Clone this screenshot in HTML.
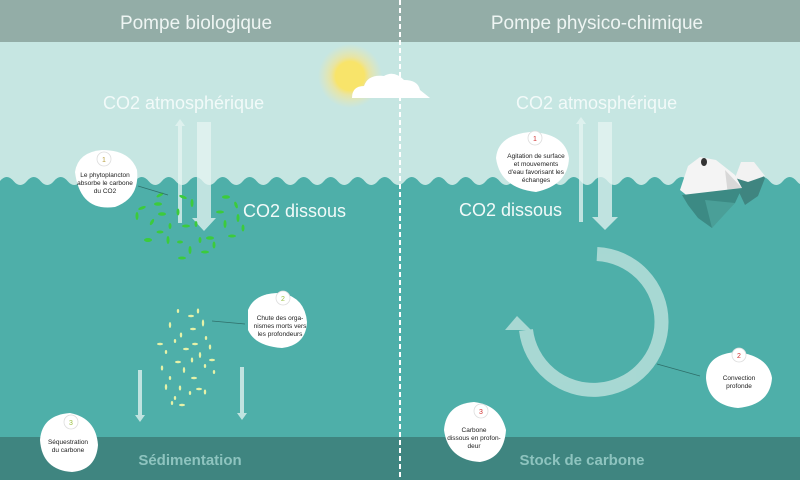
<!DOCTYPE html>
<html><head><meta charset="utf-8"><style>
html,body{margin:0;padding:0;width:800px;height:480px;overflow:hidden;background:#C6E6E2}
svg{display:block}
text{font-family:"Liberation Sans",sans-serif}
</style></head><body>
<svg width="800" height="480" viewBox="0 0 800 480" xmlns="http://www.w3.org/2000/svg">
<defs>
<radialGradient id="glow"><stop offset="0.45" stop-color="#F8E46A"/><stop offset="0.6" stop-color="#F6E48A" stop-opacity="0.7"/><stop offset="1" stop-color="#F6E8A0" stop-opacity="0"/></radialGradient>
<pattern id="wave" x="0" y="174" width="27" height="20" patternUnits="userSpaceOnUse">
<path d="M0 7 Q6.75 -1 13.5 7 Q20.25 15 27 7 L27 20 L0 20Z" fill="#4EAFA9"/>
</pattern>
</defs>
<rect x="0" y="0" width="800" height="480" fill="#C6E6E2"/>
<rect x="0" y="0" width="800" height="42" fill="#93ADA7"/>
<text x="196" y="29" font-size="19" fill="#EEF5F3" text-anchor="middle">Pompe biologique</text>
<text x="597" y="29" font-size="19" fill="#EEF5F3" text-anchor="middle">Pompe physico-chimique</text>
<circle cx="350" cy="76" r="32" fill="url(#glow)"/>
<path d="M352 98 Q352 86 364 86 Q368 74 384 76 Q394 70 404 80 Q418 80 420 90 L430 98Z" fill="#fff"/>
<rect x="0" y="174" width="800" height="20" fill="url(#wave)"/>
<rect x="0" y="193" width="800" height="245" fill="#4EAFA9"/>
<rect x="0" y="437" width="800" height="43" fill="#3F8580"/>
<text x="103" y="109" font-size="18" fill="#F2FAF9">CO2 atmosphérique</text>
<text x="516" y="109" font-size="18" fill="#F2FAF9">CO2 atmosphérique</text>
<text x="243" y="217" font-size="18" fill="#F2FAF9">CO2 dissous</text>
<text x="459" y="216" font-size="18" fill="#F2FAF9">CO2 dissous</text>
<text x="190" y="465" font-size="15" font-weight="bold" fill="#8EC4BF" text-anchor="middle">Sédimentation</text>
<text x="582" y="465" font-size="15" font-weight="bold" fill="#8EC4BF" text-anchor="middle">Stock de carbone</text>
<g fill="#E6F5F3" opacity="0.75">
<path d="M178 223 L178 126 L175 126 L180 119 L185 126 L182 126 L182 223Z"/>
<path d="M197 122 L211 122 L211 218 L216 218 L204 231 L192 218 L197 218Z"/>
<path d="M579 222 L579 124 L576 124 L581 117 L586 124 L583 124 L583 222Z"/>
<path d="M598 122 L612 122 L612 217 L618 217 L605 230 L592 217 L598 217Z"/>
<path d="M138 370 L142 370 L142 415 L145 415 L140 422 L135 415 L138 415Z"/>
<path d="M240 367 L244 367 L244 413 L247 413 L242 420 L237 413 L240 413Z"/>
</g>
<g opacity="0.75">
<path d="M597 254 A68 68 0 1 1 526 330" fill="none" stroke="#C6E6E2" stroke-width="14"/>
<path d="M505 330 L517 316 L531 330Z" fill="#C6E6E2"/>
</g>
<g>
<path d="M735 180 L742 162 L756 165 L765 178 L758 196 L745 205 L738 190Z" fill="#3F8580"/>
<path d="M735 178 L741 162 L754 162 L765 176 L748 182Z" fill="#F2F2F2"/>
<path d="M680 190 L688 166 L700 157 L716 160 L735 175 L742 188 L720 200 L690 198Z" fill="#F4F4F4"/>
<path d="M725 170 L742 188 L728 195Z" fill="#D8D8D8"/>
<path d="M682 195 L742 188 L735 203 L722 215 L712 228 L698 218 L688 205Z" fill="#3C8A84"/>
<path d="M705 200 L735 203 L712 228Z" fill="#4A9F98"/>
<ellipse cx="704" cy="162" rx="3" ry="4" fill="#333"/>
</g>
<g fill="#3CCB3C">
<ellipse cx="160" cy="195" rx="4" ry="1.5" transform="rotate(-30 160 195)"/>
<ellipse cx="142" cy="208" rx="4" ry="1.5" transform="rotate(-20 142 208)"/>
<ellipse cx="158" cy="204" rx="4" ry="1.8"/>
<ellipse cx="183" cy="197" rx="4" ry="1.5" transform="rotate(20 183 197)"/>
<ellipse cx="192" cy="203" rx="1.5" ry="4"/>
<ellipse cx="226" cy="197" rx="4" ry="1.8"/>
<ellipse cx="236" cy="205" rx="1.5" ry="3.5" transform="rotate(-20 236 205)"/>
<ellipse cx="137" cy="216" rx="1.5" ry="4"/>
<ellipse cx="162" cy="214" rx="4" ry="1.8"/>
<ellipse cx="178" cy="212" rx="1.5" ry="3.5"/>
<ellipse cx="220" cy="212" rx="4" ry="1.5"/>
<ellipse cx="238" cy="218" rx="1.5" ry="4"/>
<ellipse cx="152" cy="222" rx="1.5" ry="3.5" transform="rotate(30 152 222)"/>
<ellipse cx="160" cy="232" rx="3.5" ry="1.5"/>
<ellipse cx="186" cy="226" rx="4" ry="1.5"/>
<ellipse cx="196" cy="224" rx="1.5" ry="3"/>
<ellipse cx="225" cy="224" rx="1.5" ry="4"/>
<ellipse cx="243" cy="228" rx="1.5" ry="3.5"/>
<ellipse cx="148" cy="240" rx="4" ry="2"/>
<ellipse cx="168" cy="240" rx="1.5" ry="4"/>
<ellipse cx="180" cy="242" rx="3" ry="1.5"/>
<ellipse cx="210" cy="238" rx="4" ry="1.8"/>
<ellipse cx="214" cy="245" rx="1.5" ry="3.5"/>
<ellipse cx="232" cy="236" rx="4" ry="1.5"/>
<ellipse cx="190" cy="250" rx="1.5" ry="4"/>
<ellipse cx="205" cy="252" rx="4" ry="1.5"/>
<ellipse cx="182" cy="258" rx="4" ry="1.5"/>
<ellipse cx="200" cy="240" rx="1.5" ry="3"/>
<ellipse cx="170" cy="226" rx="1.5" ry="3"/>
</g>
<g fill="#E6F2A8">
<ellipse cx="178" cy="311" rx="1.2" ry="2"/><ellipse cx="191" cy="316" rx="3" ry="1.3"/><ellipse cx="198" cy="311" rx="1.2" ry="2.5"/>
<ellipse cx="170" cy="325" rx="1.2" ry="3"/><ellipse cx="203" cy="323" rx="1.2" ry="3.5"/><ellipse cx="193" cy="329" rx="3" ry="1.3"/>
<ellipse cx="181" cy="335" rx="1.2" ry="2.5"/><ellipse cx="206" cy="338" rx="1.2" ry="2"/><ellipse cx="160" cy="344" rx="3" ry="1.3"/>
<ellipse cx="175" cy="341" rx="1.2" ry="2"/><ellipse cx="195" cy="344" rx="3" ry="1.3"/><ellipse cx="186" cy="349" rx="3" ry="1.3"/>
<ellipse cx="210" cy="347" rx="1.2" ry="2.5"/><ellipse cx="166" cy="352" rx="1.2" ry="2"/><ellipse cx="200" cy="355" rx="1.2" ry="3"/>
<ellipse cx="178" cy="362" rx="3" ry="1.3"/><ellipse cx="192" cy="360" rx="1.2" ry="2.5"/><ellipse cx="212" cy="360" rx="3" ry="1.3"/>
<ellipse cx="162" cy="368" rx="1.2" ry="2.5"/><ellipse cx="184" cy="370" rx="1.2" ry="3"/><ellipse cx="205" cy="366" rx="1.2" ry="2"/>
<ellipse cx="170" cy="378" rx="1.2" ry="2"/><ellipse cx="194" cy="378" rx="3" ry="1.3"/><ellipse cx="214" cy="372" rx="1.2" ry="2"/>
<ellipse cx="166" cy="387" rx="1.2" ry="3"/><ellipse cx="180" cy="388" rx="1.2" ry="2.5"/><ellipse cx="199" cy="389" rx="3" ry="1.3"/>
<ellipse cx="205" cy="392" rx="1.2" ry="2.5"/><ellipse cx="175" cy="398" rx="1.2" ry="2"/><ellipse cx="190" cy="393" rx="1.2" ry="2"/>
<ellipse cx="182" cy="405" rx="3" ry="1.3"/><ellipse cx="172" cy="403" rx="1.2" ry="2"/>
</g>
<g stroke="#2F6F6A" stroke-width="0.8" fill="none">
<line x1="138" y1="186" x2="168" y2="195"/>
<line x1="212" y1="321" x2="245" y2="324"/>
<line x1="657" y1="364" x2="700" y2="376"/>
</g>
<g fill="#fff">
<path d="M75 172 Q78 152 102 150 Q130 150 137 170 Q140 198 115 207 Q80 212 75 172Z"/>
<path d="M248 310 Q255 292 282 293 Q305 298 307 322 Q306 345 282 348 Q255 346 248 330Z"/>
<path d="M40 440 Q42 415 70 413 Q96 418 98 445 Q96 470 72 472 Q42 470 40 440Z"/>
<path d="M496 158 Q498 135 530 132 Q565 133 569 158 Q568 185 536 192 Q500 188 496 158Z"/>
<path d="M706 378 Q706 355 735 352 Q768 355 772 378 Q770 405 738 408 Q708 405 706 378Z"/>
<path d="M444 430 Q446 404 474 402 Q500 405 506 430 Q504 458 480 462 Q448 460 444 430Z"/>
</g>
<g stroke="#ddd" stroke-width="0.8" fill="#fff">
<circle cx="104" cy="159" r="7"/><circle cx="283" cy="298" r="7"/><circle cx="71" cy="422" r="7"/>
<circle cx="535" cy="138" r="7"/><circle cx="739" cy="355" r="7"/><circle cx="481" cy="411" r="7"/>
</g>
<g font-size="7" text-anchor="middle">
<text x="104" y="162" fill="#B8A040">1</text><text x="283" y="301" fill="#9BC040">2</text><text x="71" y="425" fill="#9BC040">3</text>
<text x="535" y="141" fill="#D03030">1</text><text x="739" y="358" fill="#D03030">2</text><text x="481" y="414" fill="#D03030">3</text>
</g>
<g font-size="6.5" fill="#222" text-anchor="middle">
<text x="105" y="177">Le phytoplancton</text><text x="105" y="185">absorbe le carbone</text><text x="105" y="193">du CO2</text>
<text x="280" y="320">Chute des orga-</text><text x="280" y="328">nismes morts vers</text><text x="280" y="336">les profondeurs</text>
<text x="68" y="444">Séquestration</text><text x="68" y="452">du carbone</text>
<text x="536" y="158">Agitation de surface</text><text x="536" y="166">et mouvements</text><text x="536" y="174">d'eau favorisant les</text><text x="536" y="182">échanges</text>
<text x="739" y="380">Convection</text><text x="739" y="388">profonde</text>
<text x="474" y="432">Carbone</text><text x="474" y="440">dissous en profon-</text><text x="474" y="448">deur</text>
</g>
<line x1="400" y1="0" x2="400" y2="480" stroke="#fff" stroke-width="2" stroke-dasharray="5,3"/>
</svg>
</body></html>
